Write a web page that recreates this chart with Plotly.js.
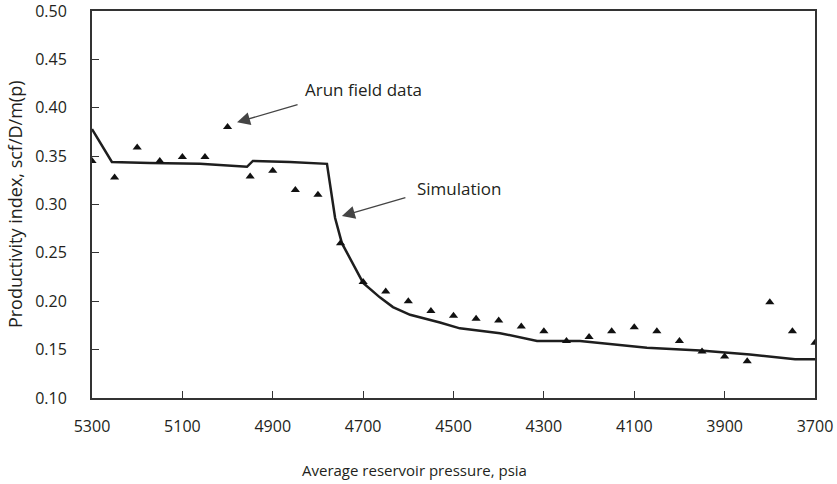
<!DOCTYPE html>
<html>
<head>
<meta charset="utf-8">
<script src="https://cdn.plot.ly/plotly-3.0.1.min.js"></script>
<style>html,body{margin:0;padding:0;background:#fff;}#chart{width:837px;height:484px;}</style>
</head>
<body>
<div id="chart"></div>
<script>
// Arun field data (triangles)
var fieldPressure = [5300, 5250, 5200, 5150, 5100, 5050, 5000, 4950, 4900, 4850, 4800,
  4750, 4700, 4650, 4600, 4550, 4500, 4450, 4400, 4350, 4300,
  4250, 4200, 4150, 4100, 4050, 4000, 3950, 3900, 3850, 3800, 3750, 3700];
var fieldPI = [0.345, 0.328, 0.359, 0.345, 0.349, 0.349, 0.380, 0.329, 0.335, 0.315, 0.310,
  0.260, 0.220, 0.210, 0.200, 0.190, 0.185, 0.182, 0.180, 0.174, 0.169,
  0.159, 0.163, 0.169, 0.173, 0.169, 0.159, 0.148, 0.143, 0.138, 0.199, 0.169, 0.157];

// Simulation curve
var simPressure = [5300, 5256, 5172, 5061, 4957, 4944, 4862, 4780, 4762, 4747, 4700,
  4663, 4634, 4596, 4530, 4486, 4397, 4315, 4220, 4154, 4072, 3954, 3844, 3744, 3700];
var simPI = [0.378, 0.344, 0.343, 0.342, 0.339, 0.345, 0.344, 0.342, 0.286, 0.260, 0.219,
  0.204, 0.194, 0.186, 0.178, 0.172, 0.167, 0.159, 0.159, 0.156, 0.152, 0.149, 0.145, 0.140, 0.140];

var xTicks = [5300, 5100, 4900, 4700, 4500, 4300, 4100, 3900, 3700];
var yTicks = [0.10, 0.15, 0.20, 0.25, 0.30, 0.35, 0.40, 0.45, 0.50];

var labelField = 'Arun field data';
var labelSim = 'Simulation';
var xTitle = 'Average reservoir pressure, psia';
var yTitle = 'Productivity index, scf/D/m(p)';

var FONT = 'Open Sans, Noto Sans, sans-serif';
var TXT = '#231f20';

var traces = [
  {
    x: simPressure, y: simPI, type: 'scatter', mode: 'lines',
    line: {color: '#1e1e1e', width: 2.5},
    hoverinfo: 'skip', showlegend: false
  },
  {
    x: fieldPressure, y: fieldPI, type: 'scatter', mode: 'markers',
    marker: {symbol: 'triangle-up', size: 8, color: '#111'},
    showlegend: false
  }
];

var layout = {
  width: 837, height: 484,
  margin: {l: 92, r: 22, t: 11, b: 86},
  paper_bgcolor: '#fff', plot_bgcolor: '#fff',
  font: {family: FONT, color: TXT, size: 16},
  xaxis: {
    range: [5300, 3700], tickvals: xTicks, ticktext: xTicks.map(String),
    ticks: 'inside', ticklen: 7, tickwidth: 1.2, tickcolor: '#333',
    showline: true, linecolor: '#333', linewidth: 2, mirror: true,
    showgrid: false, zeroline: false, ticklabelstandoff: 13,
    ticklabeloverflow: 'allow',
    tickfont: {size: 16, family: FONT, color: TXT}
  },
  yaxis: {
    range: [0.10, 0.50], tickvals: yTicks, ticktext: yTicks.map(function(v){return v.toFixed(2);}),
    ticks: 'inside', ticklen: 7, tickwidth: 1.2, tickcolor: '#333',
    showline: true, linecolor: '#333', linewidth: 2, mirror: true,
    showgrid: false, zeroline: false, ticklabelstandoff: 20,
    ticklabeloverflow: 'allow',
    tickfont: {size: 16, family: FONT, color: TXT}
  },
  annotations: [
    {x: 4979, y: 0.385, xref: 'x', yref: 'y', text: '', showarrow: true,
     ax: 62, ay: -18, arrowhead: 2, arrowsize: 2, arrowwidth: 1.3, arrowcolor: '#444'},
    {x: 4833, y: 0.419, xref: 'x', yref: 'y', text: labelField, showarrow: false,
     xanchor: 'left', yanchor: 'middle', font: {size: 17, family: FONT, color: TXT}},
    {x: 4747, y: 0.288, xref: 'x', yref: 'y', text: '', showarrow: true,
     ax: 65, ay: -19, arrowhead: 2, arrowsize: 2, arrowwidth: 1.3, arrowcolor: '#444'},
    {x: 4585, y: 0.317, xref: 'x', yref: 'y', text: labelSim, showarrow: false,
     xanchor: 'left', yanchor: 'middle', font: {size: 17, family: FONT, color: TXT}},
    {x: 0.4467, y: -0.186, xref: 'paper', yref: 'paper', text: xTitle, showarrow: false,
     xanchor: 'center', yanchor: 'middle', font: {size: 15, family: FONT, color: TXT}},
    {x: -0.1065, y: 0.501, xref: 'paper', yref: 'paper', text: yTitle, showarrow: false,
     textangle: -90, xanchor: 'center', yanchor: 'middle', font: {size: 18, family: FONT, color: TXT}}
  ]
};

Plotly.newPlot('chart', traces, layout, {displayModeBar: false, staticPlot: true});
</script>
</body>
</html>
